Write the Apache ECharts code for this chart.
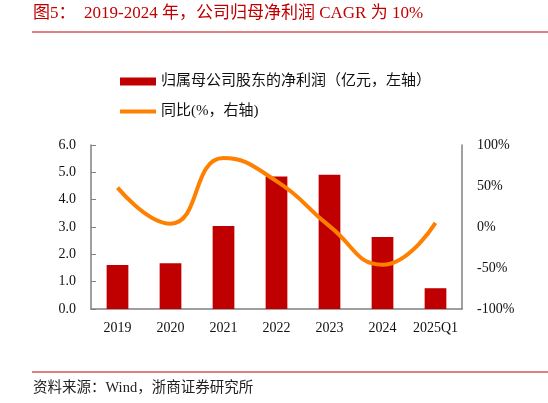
<!DOCTYPE html>
<html>
<head>
<meta charset="utf-8">
<script src="https://cdn.jsdelivr.net/npm/echarts@6/dist/echarts.min.js"></script>
<style>
  html, body { margin: 0; padding: 0; background: #fff; }
  #chart { width: 548px; height: 403px; }
</style>
</head>
<body>
<div id="chart"></div>
<script>
// 数据
const categories = ['2019', '2020', '2021', '2022', '2023', '2024', '2025Q1']
const netProfit = [1.61, 1.67, 3.04, 4.85, 4.91, 2.63, 0.76]
const yoyGrowth = [48, 4, 84, 56, 1, -46, 5]

const barName = '归属母公司股东的净利润（亿元，左轴）'
const lineName = '同比(%，右轴)'

const serif = '"Liberation Serif", "Times New Roman", "Noto Sans CJK SC", serif'
const cjk = '"Liberation Serif", "Noto Sans CJK SC", serif'
const axisGrey = '#808080'

const chart = echarts.init(document.getElementById('chart'))

chart.setOption({
  animation: false,
  graphic: [
    {
      type: 'text',
      left: 33,
      top: 5,
      style: {
        text: '图5：  2019-2024 年，公司归母净利润 CAGR 为 10%',
        fill: '#c00000',
        font: '17px ' + cjk
      }
    },
    {
      type: 'line',
      shape: { x1: 32, y1: 32, x2: 548, y2: 32 },
      style: { stroke: '#c00000', lineWidth: 1 }
    },
    {
      type: 'line',
      shape: { x1: 32, y1: 372, x2: 548, y2: 372 },
      style: { stroke: '#c00000', lineWidth: 1 }
    },
    {
      type: 'text',
      left: 33,
      top: 381,
      style: {
        text: '资料来源：Wind，浙商证券研究所',
        fill: '#222',
        font: '14.5px ' + cjk
      }
    }
  ],
  legend: {
    orient: 'vertical',
    left: 120,
    top: 74,
    padding: 0,
    itemWidth: 36,
    itemHeight: 8,
    itemGap: 15,
    textStyle: {
      fontFamily: cjk,
      fontSize: 15,
      color: '#111'
    },
    data: [
      { name: barName, icon: 'rect' },
      { name: lineName, icon: 'path://M0,0h36v4H0z' }
    ]
  },
  grid: {
    left: 91,
    right: 86,
    top: 145,
    bottom: 94
  },
  xAxis: {
    type: 'category',
    data: categories,
    axisLine: { lineStyle: { color: axisGrey, width: 1.5 } },
    axisTick: { inside: true, length: 5, lineStyle: { color: axisGrey } },
    axisLabel: {
      interval: 0,
      color: '#111',
      fontFamily: serif,
      fontSize: 14,
      margin: 12
    }
  },
  yAxis: [
    {
      type: 'value',
      min: 0,
      max: 6,
      interval: 1,
      splitLine: { show: false },
      axisLine: { show: true, lineStyle: { color: axisGrey, width: 1.5 } },
      axisTick: { show: true, inside: true, length: 5, lineStyle: { color: axisGrey } },
      axisLabel: {
        color: '#111',
        fontFamily: serif,
        fontSize: 14,
        margin: 15,
        formatter: v => v.toFixed(1)
      }
    },
    {
      type: 'value',
      min: -100,
      max: 100,
      interval: 50,
      splitLine: { show: false },
      axisLine: { show: true, lineStyle: { color: axisGrey, width: 1.5 } },
      axisTick: { show: false },
      axisLabel: {
        color: '#111',
        fontFamily: serif,
        fontSize: 14,
        margin: 15,
        formatter: '{value}%'
      }
    }
  ],
  series: [
    {
      name: barName,
      type: 'bar',
      data: netProfit,
      barWidth: '41%',
      itemStyle: { color: '#c00000' }
    },
    {
      name: lineName,
      type: 'line',
      yAxisIndex: 1,
      data: yoyGrowth,
      smooth: 0.5,
      symbol: 'none',
      lineStyle: { color: '#ff8000', width: 4 },
      itemStyle: { color: '#ff8000' },
      z: 3
    }
  ]
})
</script>
</body>
</html>
